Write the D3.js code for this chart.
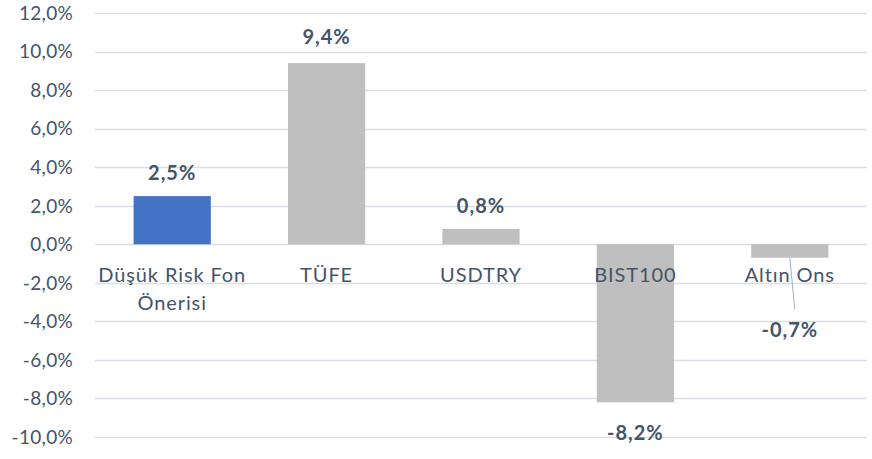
<!DOCTYPE html>
<html>
<head>
<meta charset="utf-8">
<script src="https://cdn.jsdelivr.net/npm/d3@7"></script>
<style>
  body { margin: 0; background: #fff; }
  text { font-family: Lato, "Open Sans", sans-serif; fill: #44546A; }
</style>
</head>
<body>
<div id="viz"></div>
<script>
// chart data
var categories = ["Düşük Risk Fon Önerisi", "TÜFE", "USDTRY", "BIST100", "Altın Ons"];
var catLines   = [["Düşük Risk Fon", "Önerisi"], ["TÜFE"], ["USDTRY"], ["BIST100"], ["Altın Ons"]];
var values     = [2.5, 9.4, 0.8, -8.2, -0.7];
var yTicks     = [-10, -8, -6, -4, -2, 0, 2, 4, 6, 8, 10, 12];

var width = 872, height = 459;
var margin = {top: 13, right: 5, bottom: 22, left: 95};

var svg = d3.select("#viz").append("svg")
  .attr("width", width)
  .attr("height", height);

var x = d3.scaleBand()
  .domain(categories)
  .range([margin.left, width - margin.right])
  .paddingInner(0.5)
  .paddingOuter(0.25);

var y = d3.scaleLinear()
  .domain([-10, 12])
  .range([height - margin.bottom, margin.top]);

var fmt = function(v) { return v.toFixed(1).replace(".", ",") + "%"; };

// gridlines
svg.append("g")
  .selectAll("line")
  .data(yTicks)
  .enter().append("line")
  .attr("x1", margin.left)
  .attr("x2", width - margin.right)
  .attr("y1", function(d) { return Math.round(y(d)) + 0.5; })
  .attr("y2", function(d) { return Math.round(y(d)) + 0.5; })
  .attr("stroke", "#D9DEE6")
  .attr("stroke-width", 1.3);

// y axis labels
svg.append("g")
  .selectAll("text")
  .data(yTicks)
  .enter().append("text")
  .attr("x", 73)
  .attr("y", function(d) { return y(d); })
  .attr("dy", "0.36em")
  .attr("text-anchor", "end")
  .style("font-size", "19px")
  .style("letter-spacing", "0.3px")
  .text(fmt);

// bars
svg.append("g")
  .selectAll("rect")
  .data(values)
  .enter().append("rect")
  .attr("x", function(d, i) { return x(categories[i]); })
  .attr("width", x.bandwidth())
  .attr("y", function(d) { return y(Math.max(0, d)); })
  .attr("height", function(d) { return Math.abs(y(d) - y(0)); })
  .attr("fill", function(d, i) { return i == 0 ? "#4472C4" : "#BFBFBF"; });

// category labels (drawn just under the zero line, over the bars)
var cat = svg.append("g")
  .selectAll("text")
  .data(catLines)
  .enter().append("text")
  .attr("text-anchor", "middle")
  .attr("x", function(d, i) { return x(categories[i]) + x.bandwidth() / 2; })
  .attr("y", y(0) + 38)
  .style("font-size", "20px")
  .style("letter-spacing", "0.9px");

cat.selectAll("tspan")
  .data(function(d) { return d; })
  .enter().append("tspan")
  .attr("x", function() { return d3.select(this.parentNode).attr("x"); })
  .attr("dy", function(d, j) { return j == 0 ? 0 : 28; })
  .text(function(d) { return d; });

// value label offsets from the bar end
var labelOffset = [-23, -26, -23, 30, 72];

svg.append("g")
  .selectAll("text")
  .data(values)
  .enter().append("text")
  .attr("text-anchor", "middle")
  .attr("x", function(d, i) { return x(categories[i]) + x.bandwidth() / 2; })
  .attr("y", function(d, i) { return y(d) + labelOffset[i]; })
  .attr("dy", "0.36em")
  .style("font-size", "20px")
  .style("font-weight", "bold")
  .style("letter-spacing", "1px")
  .text(fmt);

// leader line for Altın Ons
var ai = 4;
var cx = x(categories[ai]) + x.bandwidth() / 2;
svg.append("line")
  .attr("x1", cx)
  .attr("y1", y(values[ai]))
  .attr("x2", cx + 5)
  .attr("y2", y(values[ai]) + labelOffset[ai] - 20)
  .attr("stroke", "#A5B0C0")
  .attr("stroke-width", 1);
</script>
</body>
</html>
